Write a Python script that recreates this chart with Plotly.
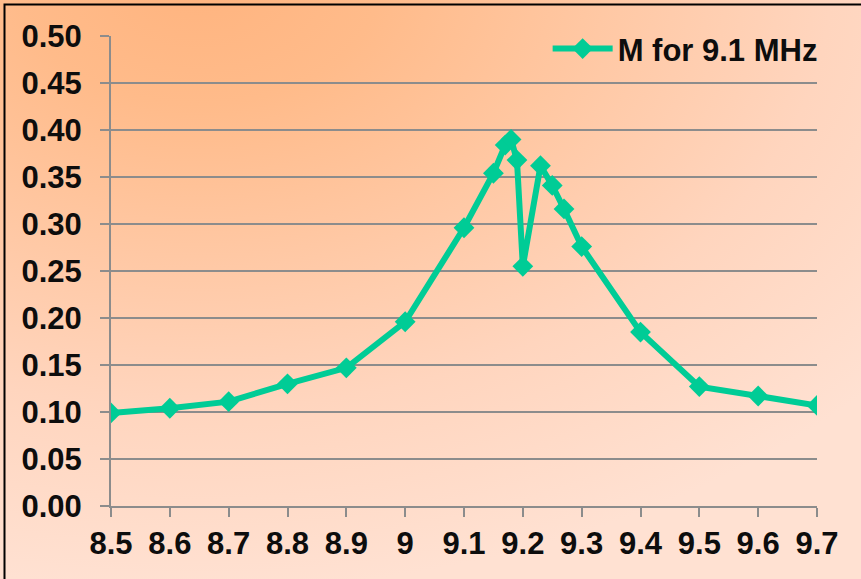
import base64
import plotly.graph_objects as go

# Frequency sweep (MHz) and measured M values
freq = [8.5, 8.6, 8.7, 8.8, 8.9, 9.0, 9.1, 9.15, 9.17, 9.18, 9.19, 9.20,
        9.23, 9.25, 9.27, 9.30, 9.4, 9.5, 9.6, 9.7]
m_vals = [0.099, 0.104, 0.111, 0.130, 0.147, 0.196, 0.296, 0.354, 0.384, 0.390,
          0.368, 0.255, 0.362, 0.341, 0.316, 0.276, 0.185, 0.127, 0.117, 0.107]
series_name = "M for 9.1 MHz"

W, H = 861, 579
ML, MR, MT, MB = 111, 44, 36, 73
PW, PH = W - ML - MR, H - MT - MB

# Warm radial background drawn as an SVG image behind the plot
svg = f"""<svg xmlns='http://www.w3.org/2000/svg' width='{W}' height='{H}'>
<defs><radialGradient id='g' cx='0.23' cy='-0.03' r='1.05'>
<stop offset='0' stop-color='#FFB47F'/>
<stop offset='0.2' stop-color='#FFBB8A'/>
<stop offset='0.7' stop-color='#FFD5BE'/>
<stop offset='1' stop-color='#FFE1D2'/>
</radialGradient></defs>
<rect width='{W}' height='{H}' fill='url(#g)'/></svg>"""
bg_src = "data:image/svg+xml;base64," + base64.b64encode(svg.encode()).decode()

font_family = "Liberation Sans, Arial, sans-serif"

fig = go.Figure()
fig.add_trace(go.Scatter(
    x=freq, y=m_vals, name=series_name, mode="lines+markers",
    line=dict(color="#00CC96", width=6),
    marker=dict(symbol="diamond", size=16, color="#00CC96"),
))

fig.update_layout(
    width=W, height=H,
    margin=dict(l=ML, r=MR, t=MT, b=MB),
    paper_bgcolor="#FFD0B4",
    plot_bgcolor="rgba(0,0,0,0)",
    showlegend=True,
    legend=dict(x=1.008, xanchor="right", y=1.03, yanchor="top",
                bgcolor="rgba(0,0,0,0)", itemwidth=60,
                font=dict(family=font_family, size=31, color="#0D0D0D", weight="bold")),
    images=[dict(source=bg_src, xref="paper", yref="paper",
                 x=-ML / PW, y=1 + MT / PH, sizex=W / PW, sizey=H / PH,
                 xanchor="left", yanchor="top", sizing="stretch", layer="below")],
    shapes=[dict(type="rect", xref="paper", yref="paper",
                 x0=(4.5 - ML) / PW, x1=(W + 10 - ML) / PW,
                 y0=-(MB + 10) / PH, y1=1 + (MT - 4.5) / PH,
                 line=dict(color="#000000", width=2))],
)

axis_font = dict(family=font_family, size=31, color="#0D0D0D", weight="bold")
fig.update_xaxes(
    range=[8.5, 9.7], tick0=8.5, dtick=0.1, showgrid=False,
    showline=True, linecolor="#8C8C8C", linewidth=2,
    ticks="outside", ticklen=9, tickwidth=2, tickcolor="#8C8C8C",
    tickfont=axis_font, zeroline=False,
)
fig.update_yaxes(
    range=[0, 0.5], dtick=0.05, tickformat=".2f",
    showgrid=True, gridcolor="#8C8C8C", gridwidth=2,
    showline=True, linecolor="#8C8C8C", linewidth=2,
    ticks="outside", ticklen=9, tickwidth=2, tickcolor="#8C8C8C",
    tickfont=axis_font, zeroline=False, ticklabelstandoff=12,
)

fig.write_html("out.html")
